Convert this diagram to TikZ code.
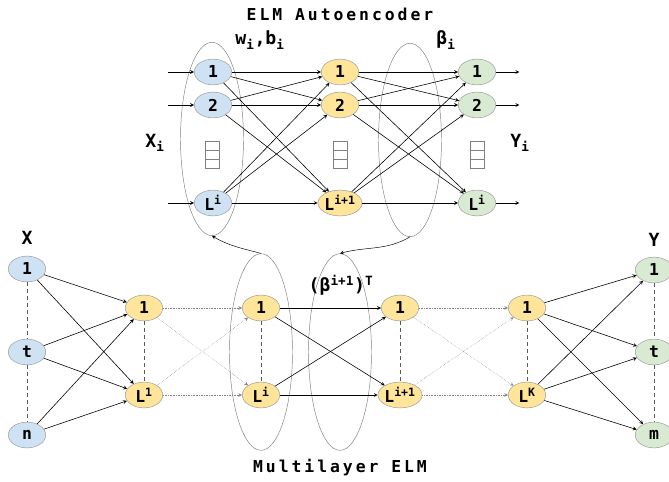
\documentclass[tikz,border=0pt]{standalone}
\usepackage{fontspec}
\usepackage{tikz}
\usetikzlibrary{shapes.geometric}
\newfontfamily\monob{DejaVu Sans Mono}
\newfontfamily\headfont[LetterSpace=18]{DejaVu Sans Mono}
\definecolor{inblue}{HTML}{CFE2F3}
\definecolor{hidyellow}{HTML}{FFE599}
\definecolor{outgreen}{HTML}{D9EAD3}

\begin{document}
\begin{tikzpicture}[x=0.03cm,y=-0.03cm,>=stealth,
    neuron/.style={ellipse,draw=gray!80,inner sep=0pt,minimum width=32pt,minimum height=22pt,
      font=\monob\bfseries\fontsize{14}{16}\selectfont},
    inn/.style={neuron,fill=inblue},
    hid/.style={neuron,fill=hidyellow},
    outn/.style={neuron,fill=outgreen},
    ring/.style={ellipse,draw=gray,minimum width=1.89cm,minimum height=5.8cm},
    lbl/.style={font=\monob\bfseries\fontsize{15.5}{18}\selectfont},
    head/.style={font=\headfont\bfseries\fontsize{14}{16}\selectfont},
    link/.style={->,line width=0.5pt},
    weak/.style={->,densely dotted,gray},
    chain/.style={dashed,thick,gray!70!black}]
    \useasboundingbox (0,0) rectangle (669,482);

    % the four groups
    \node[ring] (ringw) at (212,139) {};
    \node[ring] (ringb) at (410,140) {};
    \node[ring,minimum height=5.9cm] (ringi) at (261,352) {};
    \node[ring,minimum height=5.9cm] (ringt) at (340,352) {};

    % autoencoder
    \node[inn] (a1) at (213,72) {1};
    \node[inn] (a2) at (213,105) {2};
    \node[inn] (aL) at (213,203) {L\textsuperscript{i}};
    \node[hid] (b1) at (340,72) {1};
    \node[hid] (b2) at (340,105) {2};
    \node[hid] (bL) at (340,203) {L\textsuperscript{i+1}};
    \node[outn] (c1) at (477,72) {1};
    \node[outn] (c2) at (477,105) {2};
    \node[outn] (cL) at (477,203) {L\textsuperscript{i}};

    \foreach \n in {a1,a2,aL}
        \draw[link] ([xshift=-22pt]\n.west) -- (\n.west);
    \foreach \n in {c1,c2,cL}
        \draw[link] (\n.east) -- ([xshift=20pt]\n.east);
    \foreach \s in {a1,a2,aL}
        \foreach \t in {b1,b2,bL}
            \draw[link] (\s) -- (\t);
    \foreach \s in {b1,b2,bL}
        \foreach \t in {c1,c2,cL}
            \draw[link] (\s) -- (\t);

    % vertical dots
    \foreach \x in {212,340,477} {
        \draw[gray] (\x-7,141) rectangle (\x+7,168);
        \draw[gray] (\x-7,150) -- (\x+7,150) (\x-7,159) -- (\x+7,159);
    }

    \node[head] (ae) at (340,14) {ELM Autoencoder};
    \node[lbl] (wb) at (260,40) {w\textsubscript{i},b\textsubscript{i}};
    \node[lbl] (bt) at (446,40) {β\textsubscript{i}};
    \node[lbl] (xi) at (155,143) {X\textsubscript{i}};
    \node[lbl] (yi) at (520,143) {Y\textsubscript{i}};

    % multilayer network
    \node[inn] (x1) at (27,269) {1};
    \node[inn] (xt) at (27,352) {t};
    \node[inn] (xn) at (27,435) {n};
    \node[hid] (p1) at (144,308) {1};
    \node[hid] (pL) at (144,395) {L\textsuperscript{1}};
    \node[hid] (q1) at (261,308) {1};
    \node[hid] (qL) at (261,395) {L\textsuperscript{i}};
    \node[hid] (r1) at (400,308) {1};
    \node[hid] (rL) at (400,395) {L\textsuperscript{i+1}};
    \node[hid] (s1) at (527,308) {1};
    \node[hid] (sL) at (527,395) {L\textsuperscript{K}};
    \node[outn] (y1) at (654,270) {1};
    \node[outn] (yt) at (654,352) {t};
    \node[outn] (ym) at (654,435) {m};

    \draw[chain] (x1) -- (xt) (xt) -- (xn);
    \draw[chain] (y1) -- (yt) (yt) -- (ym);
    \draw[chain] (p1) -- (pL) (q1) -- (qL) (r1) -- (rL) (s1) -- (sL);

    \foreach \s in {x1,xt,xn}
        \foreach \t in {p1,pL}
            \draw[link] (\s) -- (\t);
    \foreach \s in {p1,pL}
        \foreach \t in {q1,qL}
            \draw[weak] (\s) -- (\t);
    \foreach \s in {q1,qL}
        \foreach \t in {r1,rL}
            \draw[link] (\s) -- (\t);
    \foreach \s in {r1,rL}
        \foreach \t in {s1,sL}
            \draw[weak] (\s) -- (\t);
    \foreach \s in {s1,sL}
        \foreach \t in {y1,yt,ym}
            \draw[link] (\s) -- (\t);

    \draw[->] (ringi.north) to[out=165,in=-30] (ringw.south);
    \draw[->] (ringb.south) to[out=-150,in=15] (ringt.north);

    \node[lbl] (xx) at (27,238) {X};
    \node[lbl] (yy) at (654,240) {Y};
    \node[lbl] (bT) at (341,285) {(β\textsuperscript{i+1})\textsuperscript{T}};
    \node[head] (ml) at (340,468) {Multilayer ELM};
\end{tikzpicture}
\end{document}
